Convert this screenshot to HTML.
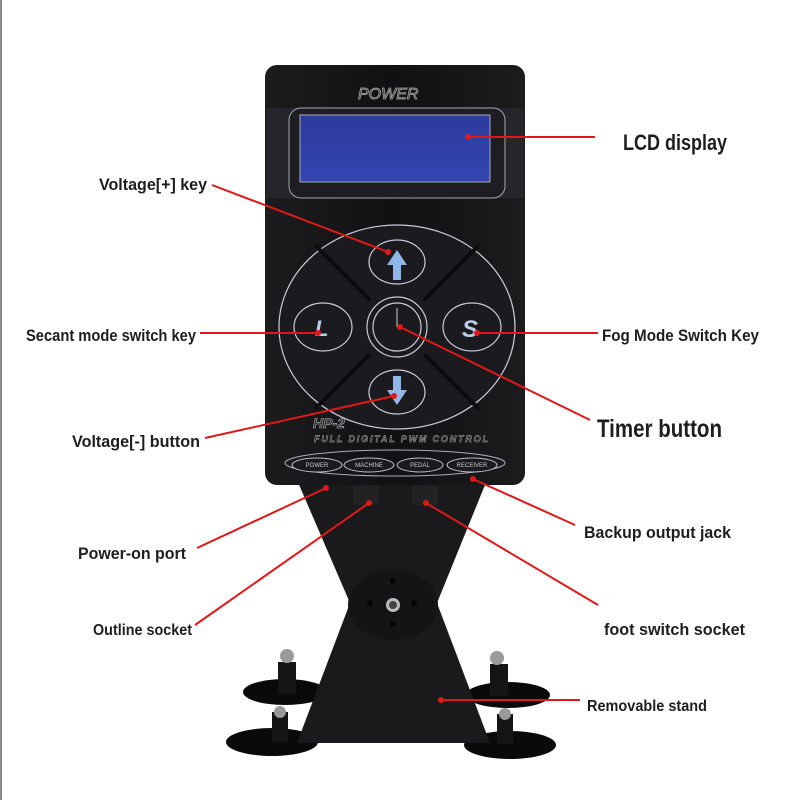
<!DOCTYPE html>
<html><head><meta charset="utf-8"><style>
html,body{margin:0;padding:0;background:#fff;width:800px;height:800px;overflow:hidden}
svg{display:block}
text{font-family:"Liberation Sans Narrow","Liberation Sans",sans-serif;fill:#1a1a1a}
.lb{font-weight:bold;fill:#1e1e1e}
</style></head><body>
<svg width="800" height="800" viewBox="0 0 800 800" xmlns="http://www.w3.org/2000/svg">
<defs>
<linearGradient id="lcd" x1="0" y1="0" x2="0" y2="1"><stop offset="0" stop-color="#2c3a9c"/><stop offset="1" stop-color="#3346b0"/></linearGradient>
<linearGradient id="body" x1="0" y1="0" x2="1" y2="0"><stop offset="0" stop-color="#1c1c1e"/><stop offset="0.5" stop-color="#111113"/><stop offset="1" stop-color="#1c1c1e"/></linearGradient>
</defs>
<rect x="0" y="0" width="2" height="800" fill="#888"/>
<!-- feet (behind stand) -->
<ellipse cx="285" cy="692" rx="42" ry="13" fill="#0a0a0a"/>
<ellipse cx="272" cy="742" rx="46" ry="14" fill="#0a0a0a"/>
<ellipse cx="508" cy="695" rx="42" ry="13" fill="#0a0a0a"/>
<ellipse cx="510" cy="745" rx="46" ry="14" fill="#0a0a0a"/>
<rect x="278" y="662" width="18" height="32" fill="#151515"/><rect x="490" y="664" width="18" height="32" fill="#151515"/>
<rect x="272" y="712" width="16" height="30" fill="#151515"/><rect x="497" y="714" width="16" height="30" fill="#151515"/>
<circle cx="287" cy="656" r="7" fill="#9a9a9a"/><circle cx="497" cy="658" r="7" fill="#9a9a9a"/>
<circle cx="280" cy="712" r="6" fill="#999"/><circle cx="505" cy="714" r="6" fill="#999"/>
<!-- stand -->
<polygon points="297,480 487,480 437,603 490,743 297,743 350,603" fill="#1a1a1c"/>
<ellipse cx="393" cy="605" rx="45" ry="35" fill="#141416"/>
<circle cx="393" cy="605" r="7" fill="#bbb"/><circle cx="393" cy="605" r="4" fill="#444"/>
<circle cx="393" cy="581" r="3" fill="#050505"/><circle cx="393" cy="624" r="3" fill="#050505"/>
<circle cx="370" cy="603" r="3" fill="#050505"/><circle cx="414" cy="603" r="3" fill="#050505"/>
<!-- sockets -->
<rect x="353" y="485" width="26" height="20" fill="#222"/><rect x="412" y="485" width="26" height="20" fill="#222"/>
<!-- body -->
<rect x="265" y="65" width="260" height="420" rx="12" fill="url(#body)"/>
<rect x="266" y="108" width="258" height="90" fill="#26262a"/>
<text x="358" y="99" font-size="16" font-style="italic" stroke="#aaa" stroke-width="0.8" style="fill:#222" font-family="Liberation Serif,serif">POWER</text>
<rect x="289" y="108" width="216" height="90" rx="12" fill="#1e1e22" stroke="#9aa" stroke-width="1"/>
<rect x="300" y="115" width="190" height="67" fill="url(#lcd)" stroke="#aab" stroke-width="1"/>
<!-- buttons -->
<g fill="#1b1b1f" stroke="#c8ccd8" stroke-width="1.2">
<ellipse cx="397" cy="327" rx="118" ry="102"/>
<ellipse cx="397" cy="262" rx="28" ry="22"/>
<ellipse cx="323" cy="327" rx="29" ry="24"/>
<ellipse cx="472" cy="327" rx="29" ry="24"/>
<ellipse cx="397" cy="392" rx="28" ry="22"/>
<circle cx="397" cy="327" r="30"/>
<circle cx="397" cy="327" r="24"/>
</g>
<g stroke="#0c0c0c" stroke-width="4">
<line x1="370" y1="300" x2="315" y2="245"/><line x1="424" y1="300" x2="479" y2="245"/>
<line x1="370" y1="354" x2="315" y2="409"/><line x1="424" y1="354" x2="479" y2="409"/>
</g>
<polygon points="397,250 387,265 393,265 393,280 401,280 401,265 407,265" fill="#8fb8e8"/>
<polygon points="397,405 387,390 393,390 393,376 401,376 401,390 407,390" fill="#8fb8e8"/>
<text x="315" y="336" font-size="22" font-weight="bold" font-style="italic" style="fill:#b8cde8">L</text>
<text x="462" y="337" font-size="24" font-weight="bold" font-style="italic" style="fill:#b8cde8">S</text>
<line x1="397" y1="327" x2="397" y2="308" stroke="#ccc"/>
<text x="313" y="428" font-size="14" font-style="italic" font-weight="bold" style="fill:#222" stroke="#bbb" stroke-width="0.6">HP-2</text>
<text x="314" y="442" font-size="9" font-style="italic" font-weight="bold" style="fill:#222" stroke="#bbb" stroke-width="0.4" textLength="174">FULL DIGITAL PWM CONTROL</text>
<ellipse cx="395" cy="463" rx="110" ry="13" fill="none" stroke="#aab" stroke-width="1"/>
<g fill="#1b1b1f" stroke="#bbc" stroke-width="1">
<ellipse cx="317" cy="465" rx="25" ry="7"/><ellipse cx="369" cy="465" rx="25" ry="7"/>
<ellipse cx="420" cy="465" rx="23" ry="7"/><ellipse cx="472" cy="465" rx="25" ry="7"/>
</g>
<g font-size="6" text-anchor="middle">
<text x="317" y="467" style="fill:#ccc">POWER</text><text x="369" y="467" style="fill:#ccc">MACHINE</text>
<text x="420" y="467" style="fill:#ccc">PEDAL</text><text x="472" y="467" style="fill:#ccc">RECEIVER</text>
</g>
<!-- leaders -->
<g stroke="#e01818" stroke-width="2" fill="none">
<line x1="468" y1="137" x2="595" y2="137"/>
<line x1="212" y1="185" x2="388" y2="252"/>
<line x1="200" y1="333" x2="318" y2="333"/>
<line x1="477" y1="333" x2="598" y2="333"/>
<line x1="400" y1="327" x2="590" y2="420"/>
<line x1="205" y1="438" x2="394" y2="396"/>
<line x1="197" y1="548" x2="326" y2="488"/>
<line x1="195" y1="625" x2="369" y2="503"/>
<line x1="575" y1="525" x2="473" y2="479"/>
<line x1="598" y1="605" x2="426" y2="503"/>
<line x1="580" y1="700" x2="441" y2="700"/>
</g>
<g fill="#e01818">
<circle cx="468" cy="137" r="3"/><circle cx="388" cy="252" r="3"/><circle cx="318" cy="333" r="3"/>
<circle cx="477" cy="333" r="3"/><circle cx="400" cy="327" r="3"/><circle cx="394" cy="396" r="3"/>
<circle cx="326" cy="488" r="3"/><circle cx="369" cy="503" r="3"/><circle cx="473" cy="479" r="3"/>
<circle cx="426" cy="503" r="3"/><circle cx="441" cy="700" r="3"/>
</g>
<!-- labels -->
<g class="lb">
<text class="lb" x="623" y="150" font-size="22" textLength="104" lengthAdjust="spacingAndGlyphs">LCD display</text>
<text class="lb" x="99" y="190" font-size="17" textLength="108" lengthAdjust="spacingAndGlyphs">Voltage[+] key</text>
<text class="lb" x="26" y="341" font-size="17" textLength="170" lengthAdjust="spacingAndGlyphs">Secant mode switch key</text>
<text class="lb" x="602" y="341" font-size="17" textLength="157" lengthAdjust="spacingAndGlyphs">Fog Mode Switch Key</text>
<text class="lb" x="597" y="437" font-size="25" textLength="125" lengthAdjust="spacingAndGlyphs">Timer button</text>
<text class="lb" x="72" y="447" font-size="17" textLength="128" lengthAdjust="spacingAndGlyphs">Voltage[-] button</text>
<text class="lb" x="584" y="538" font-size="17" textLength="147" lengthAdjust="spacingAndGlyphs">Backup output jack</text>
<text class="lb" x="78" y="559" font-size="17" textLength="108" lengthAdjust="spacingAndGlyphs">Power-on port</text>
<text class="lb" x="93" y="635" font-size="16" textLength="99" lengthAdjust="spacingAndGlyphs">Outline socket</text>
<text class="lb" x="604" y="635" font-size="17" textLength="141" lengthAdjust="spacingAndGlyphs">foot switch socket</text>
<text class="lb" x="587" y="711" font-size="16" textLength="120" lengthAdjust="spacingAndGlyphs">Removable stand</text>
</g>
</svg>
</body></html>
